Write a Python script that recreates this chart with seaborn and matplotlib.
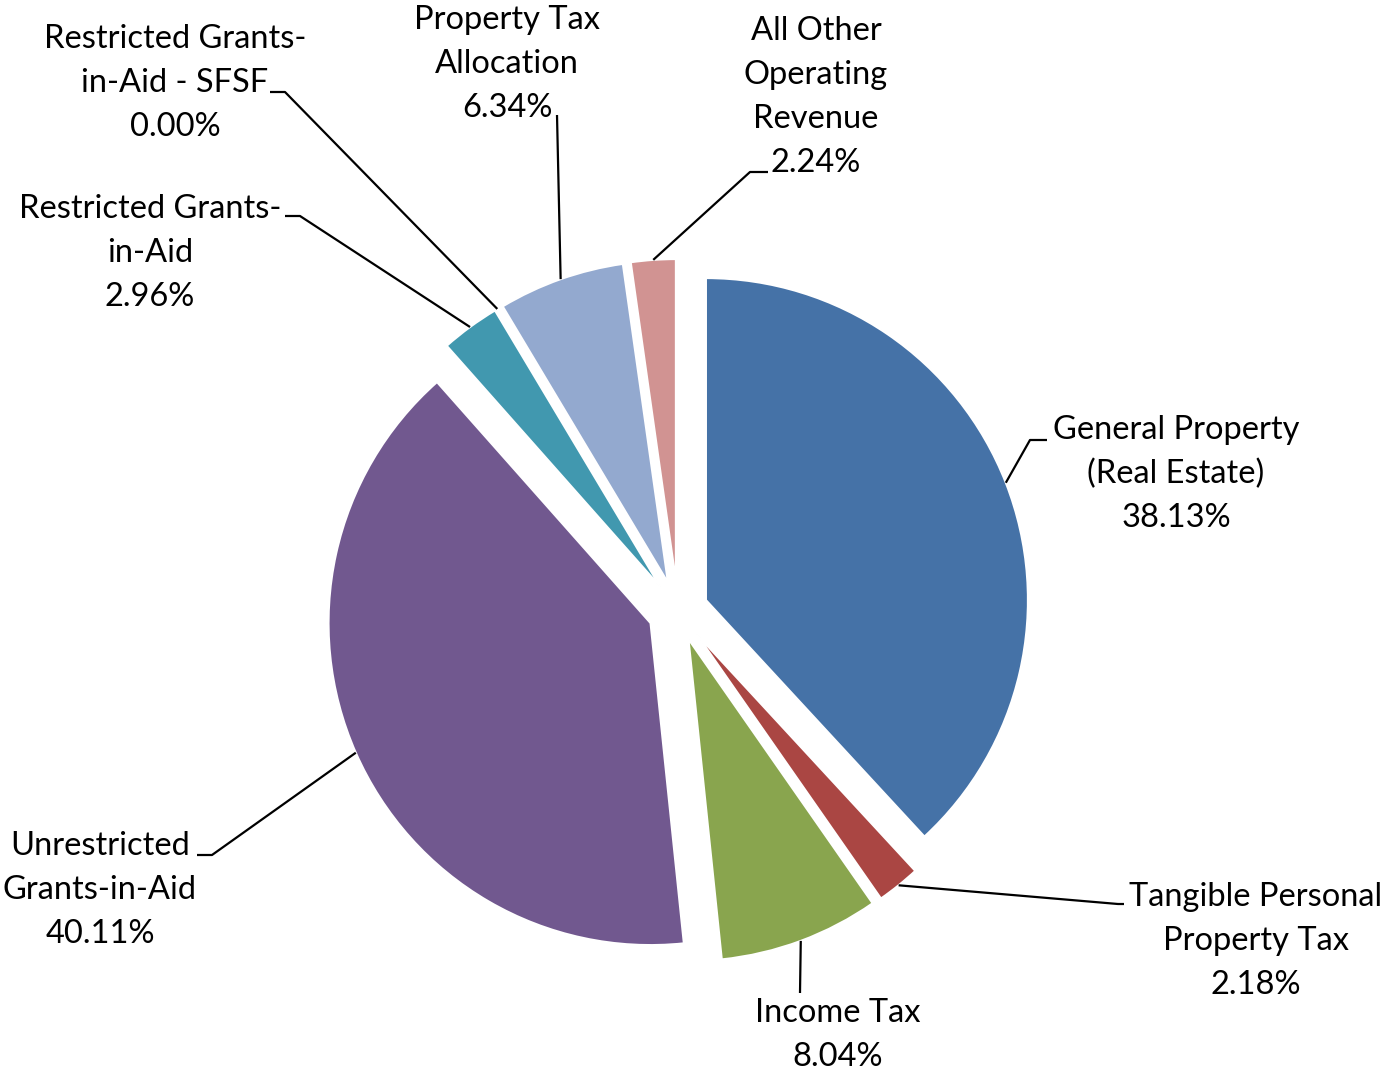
import numpy as np
import matplotlib
matplotlib.use("Agg")
import matplotlib.pyplot as plt
import seaborn as sns

# slices, clockwise from 12 o'clock
labels = [
    "General Property\n(Real Estate)",
    "Tangible Personal\nProperty Tax",
    "Income Tax",
    "Unrestricted\nGrants-in-Aid",
    "Restricted Grants-\nin-Aid",
    "Restricted Grants-\nin-Aid - SFSF",
    "Property Tax\nAllocation",
    "All Other\nOperating\nRevenue",
]
shares = [38.13, 2.18, 8.04, 40.11, 2.96, 0.00, 6.34, 2.24]
colors = ["#4572A7", "#AA4643", "#89A54E", "#71588F",
          "#4198AF", "#DB843D", "#93A9CF", "#D19392"]

W, H = 1384, 1071
CX, CY, R, EXPL = 678, H - 611, 322, 30

# label centres and leader knees (pixel coords, y from top)
label_pos = [(1176, 474), (1256, 941), (838, 1035), (100, 890),
             (150, 253), (175, 83), (507, 64), (816, 97)]
leader_knees = [
    [(1030, 440), (1047, 440)],
    [(1118, 904), (1124, 904)],
    [(800, 993)],
    [(212, 855), (197, 855)],
    [(300, 216), (285, 216)],
    [(285, 92), (270, 92)],
    [(557, 115)],
    [(750, 172), (768, 172)],
]

sns.set_theme(style="white")
plt.rcParams["font.family"] = ["Lato", "DejaVu Sans"]

fig = plt.figure(figsize=(W / 100, H / 100), dpi=100)
ax = fig.add_axes([0, 0, 1, 1])
wedges, _ = ax.pie(shares, colors=colors, startangle=90, counterclock=False,
                   radius=R, center=(CX, CY), explode=[EXPL] * len(shares),
                   wedgeprops=dict(edgecolor="white", linewidth=1.5))
ax.set_xlim(0, W)
ax.set_ylim(0, H)
ax.set_aspect("equal")
ax.axis("off")

for w, lab, val, (tx, ty), knees in zip(wedges, labels, shares, label_pos, leader_knees):
    mid = np.deg2rad((w.theta1 + w.theta2) / 2)
    cx, cy = w.center
    sx, sy = cx + R * np.cos(mid), cy + R * np.sin(mid)
    xs = [sx] + [k[0] for k in knees]
    ys = [sy] + [H - k[1] for k in knees]
    ax.plot(xs, ys, color="black", lw=1.6, solid_capstyle="butt")
    ax.text(tx, H - ty, f"{lab}\n{val:.2f}%", ha="center", va="center",
            fontsize=23.5, linespacing=1.58, color="black")

fig.savefig("out.png", dpi=100)
